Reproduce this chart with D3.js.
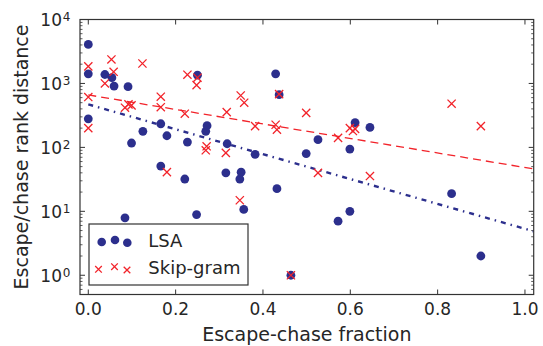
<!DOCTYPE html>
<html><head><meta charset="utf-8">
<script src="https://cdn.jsdelivr.net/npm/d3@7"></script>
<style>body{margin:0;background:#fff}svg{display:block}text{font-family:"DejaVu Sans",sans-serif;fill:#262626}</style>
</head><body><svg id="c" width="543" height="346"></svg>
<script>
// LSA points
const lsaX = [0, 0, 0, 0.038, 0.054, 0.059, 0.091, 0.084, 0.099, 0.125, 0.166, 0.166, 0.18, 0.221, 0.227, 0.248, 0.25, 0.269, 0.272, 0.315, 0.318, 0.347, 0.35, 0.356, 0.382, 0.429, 0.432, 0.437, 0.464, 0.499, 0.526, 0.572, 0.599, 0.599, 0.611, 0.645, 0.832, 0.899];
const lsaY = [4070, 1416, 280, 1380, 1230, 910, 890, 7.9, 117, 178, 234, 51, 152, 32, 121, 8.9, 1345, 178, 218, 40, 114, 32, 41, 10.7, 78, 1416, 22.6, 667, 1.0, 80, 132, 7.0, 94, 10, 243, 205, 18.9, 2.0];
// Skip-gram points
const skX = [0, 0.053, 0.124, 0.058, 0.038, 0, 0, 0.084, 0.092, 0.099, 0.166, 0.166, 0.227, 0.25, 0.248, 0.221, 0.317, 0.349, 0.357, 0.437, 0.382, 0.429, 0.432, 0.499, 0.271, 0.269, 0.315, 0.18, 0.347, 0.464, 0.832, 0.899, 0.572, 0.599, 0.606, 0.611, 0.526, 0.645];
const skY = [1850, 2370, 2050, 1520, 1000, 613, 200, 417, 470, 453, 620, 425, 1370, 1230, 940, 336, 356, 648, 500, 680, 215, 226, 189, 347, 104, 90, 82, 41, 14.9, 1.0, 482, 215, 141, 200, 180, 195, 40, 35.6];
// fitted lines (endpoints)
const fitX = [0, 1.02];
const lsaFitY = [470, 4.87];
const skFitY = [661, 46];
// ticks
const xTicks = [0, 0.2, 0.4, 0.6, 0.8, 1.0];
const yExps = [0, 1, 2, 3, 4];

const BLUE = "#2c2f8d", RED = "#f2232a", AX = "#333";
const svg = d3.select("#c");
const L = 80, R = 533.7, T = 19.5, B = 294.5;
const x = d3.scaleLinear().domain([-0.019, 1.02]).range([L, R]);
const y = d3.scaleLog().domain([0.5, 1e4]).range([B, T]);

// ticks
const g = svg.append("g");
const minor = [];
for (let e = -1; e < 4; e++) for (let m = 2; m <= 9; m++) { const v = m * Math.pow(10, e); if (v > 0.5 && v < 1e4) minor.push(v); }
const tk = (x1, y1, x2, y2, w) => g.append("line").attr("x1", x1).attr("y1", y1).attr("x2", x2).attr("y2", y2).attr("stroke", AX).attr("stroke-width", w || 1);
xTicks.forEach(v => { tk(x(v), B, x(v), B - 5); tk(x(v), T, x(v), T + 5); });
yExps.forEach(e => { const v = Math.pow(10, e); tk(L, y(v), L + 5, y(v)); tk(R, y(v), R - 5, y(v)); });
minor.forEach(v => { tk(L, y(v), L + 2.5, y(v), 0.8); tk(R, y(v), R - 2.5, y(v), 0.8); });

// fit lines
const line = d3.line().x(d => x(d[0])).y(d => y(d[1]));
svg.append("path").attr("d", line(fitX.map((v, i) => [v, skFitY[i]])))
  .attr("fill", "none").attr("stroke", RED).attr("stroke-width", 1.3).attr("stroke-dasharray", "8,5");
svg.append("path").attr("d", line(fitX.map((v, i) => [v, lsaFitY[i]])))
  .attr("fill", "none").attr("stroke", BLUE).attr("stroke-width", 2.4).attr("stroke-dasharray", "5,5,1.5,5");

// LSA circles
svg.append("g").selectAll("circle").data(lsaX.map((v, i) => [v, lsaY[i]])).join("circle")
  .attr("cx", d => x(d[0])).attr("cy", d => y(d[1])).attr("r", 4.4).attr("fill", BLUE);
// Skip-gram crosses
const cross = (sel, cx, cy, s) => sel.append("path").attr("d", `M${cx - s},${cy - s}L${cx + s},${cy + s}M${cx - s},${cy + s}L${cx + s},${cy - s}`)
  .attr("stroke", RED).attr("stroke-width", 1.3).attr("fill", "none");
const cg = svg.append("g");
skX.forEach((v, i) => cross(cg, x(v), y(skY[i]), 4.1));

// frame
svg.append("rect").attr("x", L).attr("y", T).attr("width", R - L).attr("height", B - T).attr("fill", "none").attr("stroke", AX).attr("stroke-width", 1.2);

// tick labels
xTicks.forEach(v => svg.append("text").attr("x", x(v)).attr("y", 315).attr("text-anchor", "middle").attr("font-size", 17).text(v.toFixed(1)));
yExps.forEach(e => {
  const yy = y(Math.pow(10, e));
  svg.append("text").attr("x", 62).attr("y", yy + 6.8).attr("text-anchor", "end").attr("font-size", 17).text("10");
  svg.append("text").attr("x", 62.8).attr("y", yy + 1.8).attr("font-size", 12).text(String(e));
});

// axis labels
svg.append("text").attr("x", (L + R) / 2).attr("y", 340.5).attr("text-anchor", "middle").attr("font-size", 19).text("Escape-chase fraction");
svg.append("text").attr("transform", `translate(27.5,${(T + B) / 2}) rotate(-90)`).attr("text-anchor", "middle").attr("font-size", 19).text("Escape/chase rank distance");

// legend
svg.append("rect").attr("x", 89).attr("y", 224).attr("width", 159).attr("height", 61).attr("fill", "#fff").attr("stroke", AX).attr("stroke-width", 1.2);
[[101.7, 242], [115, 240], [127.3, 242.7]].forEach(p => svg.append("circle").attr("cx", p[0]).attr("cy", p[1]).attr("r", 4.3).attr("fill", BLUE));
[[98.5, 269.3], [114.5, 266.7], [127, 270]].forEach(p => cross(svg, p[0], p[1], 3.3));
svg.append("text").attr("x", 148.3).attr("y", 247.3).attr("font-size", 18).text("LSA");
svg.append("text").attr("x", 148.3).attr("y", 274).attr("font-size", 18).text("Skip-gram");
</script></body></html>
